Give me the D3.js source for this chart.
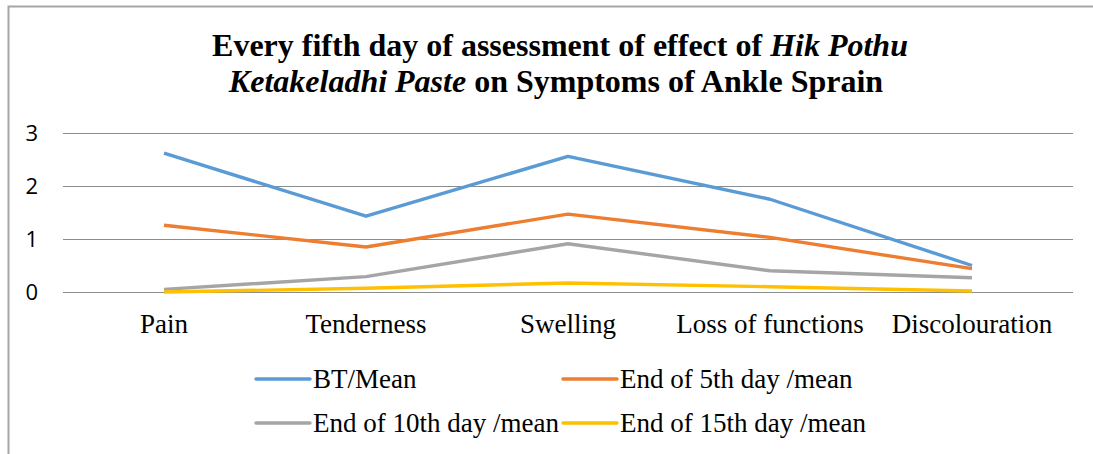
<!DOCTYPE html>
<html>
<head>
<meta charset="utf-8">
<script src="https://cdn.jsdelivr.net/npm/d3@7"></script>
<style>
  body { margin: 0; background: #fff; }
  svg { display: block; }
</style>
</head>
<body>
<div id="chart"></div>
<script>
// data
var categories = ["Pain", "Tenderness", "Swelling", "Loss of functions", "Discolouration"];
var seriesNames = ["BT/Mean", "End of 5th day /mean", "End of 10th day /mean", "End of 15th day /mean"];
var btMean = [2.62, 1.43, 2.56, 1.75, 0.50];
var day5Mean = [1.26, 0.85, 1.47, 1.03, 0.44];
var day10Mean = [0.05, 0.29, 0.91, 0.40, 0.27];
var day15Mean = [0.00, 0.07, 0.17, 0.10, 0.02];
var yTicks = [0, 1, 2, 3];
var colors = ["#5b9bd5", "#ed7d31", "#a5a5a5", "#ffc000"];

var width = 1093, height = 454;
var margin = { top: 133, right: 20, bottom: 162, left: 63 };
var serif = "'Liberation Serif', 'Times New Roman', serif";

var svg = d3.select("#chart").append("svg")
    .attr("width", width)
    .attr("height", height);

// outer chart frame (only top and left are in view)
svg.append("path")
    .attr("d", "M8.5,454 V6.5 H1093")
    .attr("fill", "none")
    .attr("stroke", "#a6a6a6")
    .attr("stroke-width", 2);

// title
var title = svg.append("text")
    .attr("text-anchor", "middle")
    .attr("font-family", serif)
    .attr("font-weight", "bold")
    .attr("font-size", 32)
    .attr("fill", "#000");
var t1 = title.append("tspan").attr("x", 560).attr("y", 56);
t1.append("tspan").text("Every fifth day of assessment of effect of ");
t1.append("tspan").attr("font-style", "italic").text("Hik Pothu");
var t2 = title.append("tspan").attr("x", 556).attr("y", 92);
t2.append("tspan").attr("font-style", "italic").text("Ketakeladhi Paste");
t2.append("tspan").text(" on Symptoms of Ankle Sprain");

var x = d3.scaleBand()
    .domain(categories)
    .range([margin.left, width - margin.right]);

var y = d3.scaleLinear()
    .domain([0, 3])
    .range([height - margin.bottom, margin.top]);

// gridlines
svg.append("g")
    .selectAll("line")
    .data(yTicks)
    .enter().append("line")
    .attr("x1", margin.left)
    .attr("x2", width - margin.right)
    .attr("y1", function(d) { return Math.round(y(d)) + 0.5; })
    .attr("y2", function(d) { return Math.round(y(d)) + 0.5; })
    .attr("stroke", "#8c8c8c")
    .attr("stroke-width", 1);

// y axis labels
svg.append("g")
    .selectAll("text")
    .data(yTicks)
    .enter().append("text")
    .attr("x", 38)
    .attr("y", function(d) { return y(d) + 8; })
    .attr("text-anchor", "end")
    .attr("font-family", "'Open Sans', 'Noto Sans', sans-serif")
    .attr("font-size", 22)
    .attr("fill", "#000")
    .text(function(d) { return d; });

// x category labels
svg.append("g")
    .selectAll("text")
    .data(categories)
    .enter().append("text")
    .attr("x", function(d) { return x(d) + x.bandwidth() / 2; })
    .attr("y", 333)
    .attr("text-anchor", "middle")
    .attr("font-family", serif)
    .attr("font-size", 27)
    .attr("fill", "#000")
    .text(function(d) { return d; });

// lines
var series = [btMean, day5Mean, day10Mean, day15Mean];
var line = d3.line()
    .x(function(d, i) { return x(categories[i]) + x.bandwidth() / 2; })
    .y(function(d) { return y(d); });

svg.append("g")
    .selectAll("path")
    .data(series)
    .enter().append("path")
    .attr("d", line)
    .attr("fill", "none")
    .attr("stroke", function(d, i) { return colors[i]; })
    .attr("stroke-width", 3.4)
    .attr("stroke-linejoin", "round");

// legend
var legendPos = [[256, 379], [563, 379], [256, 423], [563, 423]];
var legend = svg.append("g")
    .selectAll("g")
    .data(seriesNames)
    .enter().append("g")
    .attr("transform", function(d, i) { return "translate(" + legendPos[i][0] + "," + legendPos[i][1] + ")"; });

legend.append("line")
    .attr("x1", 0)
    .attr("x2", 54)
    .attr("y1", 0)
    .attr("y2", 0)
    .attr("stroke", function(d, i) { return colors[i]; })
    .attr("stroke-width", 3.4)
    .attr("stroke-linecap", "round");

legend.append("text")
    .attr("x", 57)
    .attr("y", 9)
    .attr("font-family", serif)
    .attr("font-size", 27)
    .attr("fill", "#000")
    .text(function(d) { return d; });
</script>
</body>
</html>
